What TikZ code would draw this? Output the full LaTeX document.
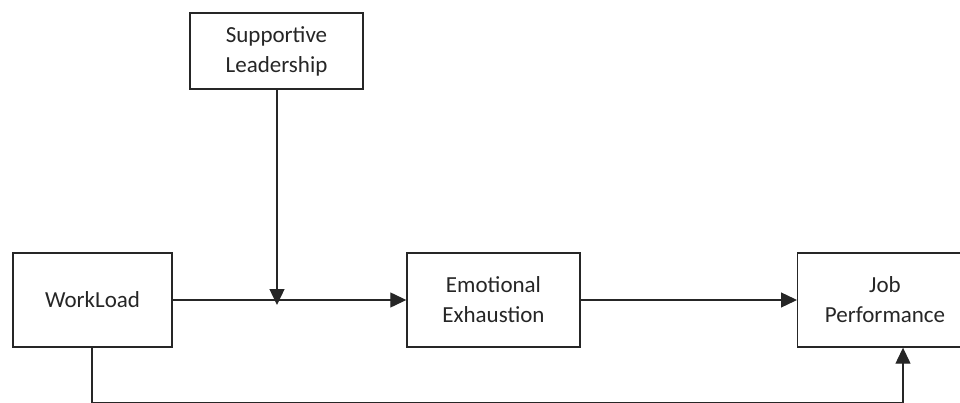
\documentclass[tikz,border=0pt]{standalone}
\usepackage{fontspec}
\setmainfont{Carlito}
\usetikzlibrary{arrows.meta}
\begin{document}
\begin{tikzpicture}[x=1pt,y=-1pt,
  box/.style={draw=black!85, line width=1.4pt, fill=white, inner sep=0pt, align=center,
    font=\fontsize{23}{30}\selectfont, text=black!85},
  conn/.style={draw=black!85, line width=1.3pt},
  arr/.style={conn, -{Triangle[length=16pt,width=15pt]}}]
\clip (0,0) rectangle (960,403);
\node[box, minimum width=173pt, minimum height=76pt] (sl) at (276.5,51) {Supportive\\Leadership};
\node[box, minimum width=159pt, minimum height=94pt] (wl) at (92.5,300) {WorkLoad};
\node[box, minimum width=173pt, minimum height=94pt] (ee) at (493.5,300) {Emotional\\Exhaustion};
\node[box, minimum width=200pt, minimum height=94pt, anchor=west] (jp) at (797,300) {};
\node[font=\fontsize{23}{30}\selectfont, text=black!85, align=center] (jpt) at (885,300) {Job\\Performance};
\coordinate (m) at (277,300);
\coordinate (mt) at (277,305);
\coordinate (b1) at (92,403);
\coordinate (b2) at (903,403);
\draw[arr] (sl.south -| m) -- (mt);
\draw[arr] (wl.east) -- (ee.west);
\draw[arr] (ee.east) -- (jp.west);
\draw[conn] (wl.south -| b1) -- (b1) -- (b2);
\draw[arr] (b2) -- (b2 |- jp.south);
\end{tikzpicture}
\end{document}
